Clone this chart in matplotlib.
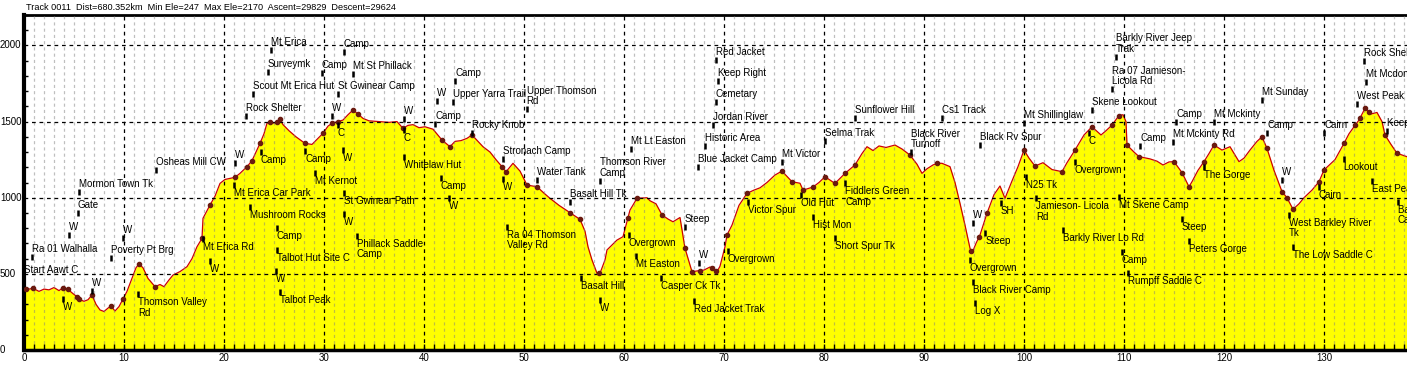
import matplotlib.pyplot as plt
import numpy as np
from matplotlib.ticker import MultipleLocator
from matplotlib.transforms import blended_transform_factory

plt.rcParams['font.family'] = ['Liberation Sans', 'DejaVu Sans']

title = "Track 0011  Dist=680.352km  Min Ele=247  Max Ele=2170  Ascent=29829  Descent=29624"

# elevation profile (km, m)
dist = [0.0, 0.5, 0.9, 1.5, 2.0, 2.5, 3.0, 3.5, 3.9, 4.4, 4.9, 5.3, 5.5, 6.0, 6.4, 6.8,
        7.2, 7.6, 8.0, 8.4, 8.7, 9.1, 9.5, 9.9, 10.3, 10.8, 11.2, 11.5, 11.9, 12.4, 13.1,
        13.6, 14.0, 14.5, 14.9, 15.6, 16.3, 16.8, 17.3, 17.8, 17.9, 18.6, 19.1, 19.6, 20.1,
        21.1, 21.6, 22.3, 22.8, 23.6, 24.0, 24.3, 24.6, 25.0, 25.3, 25.6, 25.9, 26.5, 27.2,
        28.1, 28.8, 29.4, 29.9, 30.4, 30.8, 31.4, 31.9, 32.4, 32.9, 33.4, 33.9, 34.5, 35.5,
        36.5, 37.3, 37.9, 38.4, 38.9, 39.5, 40.1, 40.9, 41.8, 42.6, 43.1, 43.7, 44.3, 44.8,
        45.9, 46.6, 47.2, 47.8, 48.2, 48.9, 49.6, 50.3, 51.3, 52.0, 52.6, 53.5, 54.6, 55.6,
        56.1, 56.4, 56.8, 57.3, 57.6, 58.1, 58.3, 59.3, 59.9, 60.6, 61.3, 62.3, 62.6, 63.2,
        63.8, 64.4, 64.9, 65.6, 66.1, 66.8, 67.4, 68.0, 68.6, 69.3, 69.6, 70.1, 70.3, 70.8,
        71.5, 72.3, 73.0, 73.6, 74.3, 75.1, 75.8, 76.3, 76.8, 77.6, 77.9, 78.9, 79.5, 80.1,
        81.1, 82.1, 83.1, 83.8, 84.3, 84.9, 85.5, 86.2, 87.1, 87.8, 88.6, 89.3, 89.8, 90.3,
        90.9, 91.3, 91.8, 92.6, 93.1, 93.6, 94.1, 94.6, 94.8, 95.2, 95.6, 96.3, 97.0, 97.6,
        98.1, 98.8, 99.4, 100.0, 100.5, 101.1, 101.9, 102.8, 103.8, 104.3, 105.1, 106.0,
        106.8, 107.7, 108.2, 108.8, 109.5, 109.9, 110.2, 110.3, 111.0, 111.5, 112.6, 113.3,
        113.9, 114.5, 115.0, 115.8, 116.5, 116.8, 117.4, 118.0, 118.5, 119.0, 119.8, 120.6,
        121.5, 122.0, 122.6, 123.3, 123.8, 124.3, 125.0, 125.8, 126.3, 126.9, 127.5, 128.0,
        128.8, 129.5, 130.0, 131.1, 132.0, 132.5, 133.0, 133.5, 134.1, 134.7, 135.3, 135.8,
        136.1, 136.7, 137.3, 138.3, 139.0]
elev = [405, 400, 405, 385, 400, 395, 410, 390, 409, 398, 370, 350, 333, 320, 330, 361,
        300, 263, 253, 275, 289, 256, 285, 335, 385, 470, 540, 565, 540, 470, 416,
        430, 416, 460, 492, 515, 547, 600, 678, 733, 865, 952, 1010, 1094, 1120,
        1134, 1160, 1204, 1243, 1357, 1420, 1489, 1499, 1490, 1500, 1515, 1480, 1440, 1400,
        1357, 1350, 1390, 1423, 1470, 1489, 1500, 1510, 1545, 1576, 1550, 1521, 1505, 1500,
        1495, 1500, 1456, 1475, 1480, 1460, 1466, 1450, 1379, 1335, 1370, 1375, 1390, 1412,
        1335, 1300, 1250, 1204, 1170, 1226, 1175, 1083, 1072, 1030, 996, 950, 902, 858,
        780, 678, 591, 504, 504, 591, 657, 722, 744, 919, 996, 1000, 980, 960,
        887, 860, 842, 870, 668, 514, 520, 525, 545, 514, 550, 678, 755, 820,
        950, 1029, 1050, 1065, 1100, 1149, 1175, 1140, 1105, 1095, 1050, 1070, 1100, 1138,
        1094, 1160, 1215, 1290, 1335, 1310, 1340, 1330, 1346, 1320, 1280, 1220, 1160, 1190,
        1215, 1226, 1226, 1204, 1100, 963, 820, 668, 635, 700, 755, 898, 1020, 1077,
        996, 1110, 1204, 1313, 1260, 1208, 1230, 1185, 1171, 1230, 1313, 1412,
        1466, 1412, 1440, 1477, 1540, 1545, 1500, 1346, 1300, 1270, 1255, 1240,
        1215, 1235, 1237, 1165, 1072, 1105, 1180, 1237, 1290, 1346, 1313, 1335,
        1237, 1260, 1313, 1370, 1400, 1324, 1180, 1040, 1000, 924, 960, 1000,
        1050, 1105, 1182, 1250, 1357, 1420, 1466, 1510, 1587, 1550, 1560, 1500,
        1412, 1350, 1292, 1270, 1250]

# waypoint dots on the profile (km)
dots = [0.2, 0.9, 3.9, 4.4, 5.3, 5.5, 6.8, 8.7, 9.9, 11.5, 13.1, 17.8, 18.6, 21.1, 22.3,
        22.8, 23.6, 24.6, 25.3, 25.6, 28.1, 29.9, 30.8, 31.4, 32.9, 33.4, 37.9, 41.8, 42.6,
        44.8, 47.8, 48.2, 50.3, 51.3, 54.6, 55.6, 57.5, 60.4, 61.3, 63.8, 66.1, 66.8, 67.6,
        68.8, 69.2, 70.3, 72.3, 75.8, 76.8, 77.9, 78.9, 80.1, 81.1, 82.1, 83.1, 88.6, 91.3,
        94.7, 95.5, 96.3, 100.0, 101.1, 103.8, 105.1, 106.8, 108.8, 109.5, 110.3, 111.5,
        115.0, 115.8, 116.5, 118.0, 119.0, 123.8, 124.3, 125.8, 126.3, 126.9, 129.5, 130.0,
        132.0, 133.1, 133.6, 134.1, 134.5, 136.1, 137.3]

# waypoint labels: text, km, elevation of the marker tick, text above (a) or below (b)
wp_names = ["Mt Erica", "Camp", "Surveymk", "Camp", "Mt St Phillack", "Scout Mt Erica Hut",
            "St Gwinear Camp", "Rock Shelter", "W", "W", "Camp", "W", "Upper Yarra Trail",
            "Camp", "C", "C", "W", "Whitelaw Hut", "Camp", "Camp", "Mt Kernot", "W",
            "Osheas Mill CW", "Mormon Town Tk", "Gate", "W", "W", "Mt Erica Car Park", "Camp",
            "St Gwinear Path", "W", "Mushroom Rocks", "W", "Camp", "Phillack Saddle\nCamp",
            "Mt Erica Rd", "Ra 01 Walhalla", "Poverty Pt Brg", "Start Aawt C", "W",
            "Talbot Hut Site C", "W", "Talbot Peak", "W", "W", "Thomson Valley\nRd",
            "Red Jacket", "Keep Right", "Cemetary", "Jordan River", "Upper Thomson\nRd",
            "Sunflower Hill", "Rocky Knob", "Stronach Camp", "W", "Water Tank",
            "Basalt Hill Tk", "Thomson River\nCamp", "Mt Lt Easton", "Historic Area",
            "Blue Jacket Camp", "Mt Victor", "Selma Trak", "Black River\nTurnoff",
            "Ra 04 Thomson\nValley Rd", "Overgrown", "Steep", "Victor Spur", "Old Hut",
            "Hist Mon", "Short Spur Tk", "Fiddlers Green\nCamp", "Overgrown", "W", "Mt Easton",
            "Basalt Hill", "W", "Casper Ck Tk", "Red Jacket Trak", "Barkly River Jeep\nTrak",
            "Ra 07 Jamieson-\nLicola Rd", "Skene Lookout", "Cs1 Track", "Mt Shillinglaw",
            "Camp", "Mt Mckinty", "Mt Sunday", "Rock Shelter", "Mt Mcdonald", "West Peak",
            "Keep Right", "Camp", "Cairn", "Black Rv Spur", "C", "Camp", "Mt Mckinty Rd",
            "N25 Tk", "Overgrown", "The Gorge", "W", "Lookout", "East Peak", "Bald Hill\nCamp",
            "SH", "W", "Steep", "Jamieson- Licola\nRd", "Mt Skene Camp", "Barkly River Lo Rd",
            "Steep", "Peters Gorge", "Cairn", "West Barkley River\nTk", "Overgrown",
            "Black River Camp", "Log X", "Camp", "Rumpff Saddle C", "The Low Saddle C"]
wp_km = [24.67, 32.0, 24.37, 29.77, 32.87, 22.87, 31.37, 22.2, 30.77, 38.0, 43.1, 41.27, 42.87,
         41.1, 31.37, 38.0, 31.93, 38.0, 23.67, 28.1, 29.1, 21.1, 13.2, 5.5, 5.37, 4.53, 9.93,
         21.0, 41.67, 32.0, 42.53, 22.6, 32.0, 25.27, 33.27, 17.87, 0.77, 8.7, 0.03, 18.6,
         25.27, 25.2, 25.6, 3.87, 6.77, 11.43, 69.2, 69.37, 69.2, 68.87, 50.27, 83.1, 44.77,
         47.93, 47.93, 51.27, 54.6, 57.6, 60.7, 68.1, 67.43, 75.83, 80.1, 88.67, 48.27, 60.47,
         66.1, 72.37, 77.7, 78.93, 81.1, 82.1, 70.37, 67.5, 61.17, 55.7, 57.6, 63.7, 67.0,
         109.2, 108.8, 106.8, 91.8, 100.03, 115.23, 119.03, 123.8, 134.03, 134.2, 133.3,
         136.27, 124.3, 130.03, 95.63, 106.47, 111.63, 114.9, 100.23, 105.07, 117.97, 125.8,
         131.97, 134.8, 137.4, 97.7, 94.9, 96.13, 101.2, 109.47, 103.9, 115.8, 116.47, 129.47,
         126.47, 94.57, 94.9, 95.07, 109.8, 110.37, 126.9]
wp_ele = [1970, 1955, 1827, 1821, 1812, 1679, 1679, 1538, 1536, 1515, 1768, 1637, 1630, 1484,
          1477, 1445, 1313, 1269, 1298, 1307, 1164, 1230, 1182, 1039, 901, 755, 737, 1083,
          1127, 1029, 996, 941, 891, 803, 749, 727, 613, 602, 471, 586, 657, 521, 383, 333,
          387, 366, 1904, 1766, 1630, 1477, 1582, 1521, 1423, 1252, 1121, 1116, 974, 1112,
          1320, 1339, 1204, 1236, 1374, 1298, 810, 755, 806, 974, 1018, 875, 733, 1095, 652,
          573, 617, 471, 328, 471, 324, 1926, 1714, 1576, 1521, 1488, 1499, 1499, 1642, 1900,
          1762, 1615, 1438, 1425, 1425, 1346, 1423, 1339, 1368, 1138, 1236, 1204, 1116, 1252,
          1112, 974, 963, 832, 766, 996, 1007, 788, 860, 718, 1072, 886, 591, 448, 307, 645,
          504, 678]
wp_side = ["a", "a", "a", "a", "a", "a", "a", "a", "a", "a", "a", "a", "a", "a",
           "b", "b", "b", "b", "b", "b", "b", "a", "a", "a", "a", "a", "a", "b",
           "b", "b", "b", "b", "b", "b", "b", "b", "a", "a", "a", "b", "b", "b", "b", "b",
           "a", "b", "a", "a", "a", "a", "a", "a", "a", "a", "b", "a", "a", "a",
           "a", "a", "a", "a", "a", "a", "b", "b", "a", "b", "b", "b", "b", "b", "b",
           "a", "b", "b", "b", "b", "b", "a", "a", "a", "a", "a", "a", "a", "a", "a",
           "a", "a", "a", "a", "a", "a", "b", "a", "a", "b", "b", "b", "a", "b",
           "b", "b", "b", "a", "b", "b", "b", "b", "b", "b", "b", "b", "b", "b", "b", "b",
           "b", "b"]

yticks = [0, 500, 1000, 1500, 2000]

W, H = 1407, 371
fig = plt.figure(figsize=(W / 100, H / 100), dpi=100)
ax = fig.add_axes([24 / W, 21 / H, (W - 24) / W, 335 / H])
ax.set_xlim(0, 138.3)
ax.set_ylim(0, 2200)

ax.fill_between(dist, elev, 0, color='#ffff00', lw=0, zorder=1)
ax.plot(dist, elev, color='#cc0000', lw=0.9, zorder=2)
ax.plot(dots, np.interp(dots, dist, elev), ls='none', marker='o', ms=3.0,
        color='#6a1a10', zorder=4)

# grid: dashed black every 10 km / 500 m, grey dashed every km
ax.set_axisbelow(False)
ax.xaxis.set_major_locator(MultipleLocator(10))
ax.xaxis.set_minor_locator(MultipleLocator(1))
ax.set_yticks(yticks)
ax.yaxis.set_minor_locator(MultipleLocator(100))
ax.grid(which='major', color='black', ls=(0, (3, 3)), lw=0.9)
ax.xaxis.grid(which='minor', color='#808080', alpha=0.5, ls=(0, (2.5, 2.5)), lw=0.9)
ax.tick_params(axis='x', which='both', direction='in', length=4, width=1,
               labelsize=7, pad=2, top=False)
ax.tick_params(axis='y', which='minor', direction='in', length=3, width=1)
ax.tick_params(axis='y', which='major', length=0, labelleft=False)

for s in ['top', 'bottom', 'left']:
    ax.spines[s].set_color('black')
ax.spines['left'].set_linewidth(3)
ax.spines['bottom'].set_linewidth(2.5)
ax.spines['top'].set_linewidth(2)
ax.spines['right'].set_visible(False)

# y labels sit flush with the left edge of the figure
ylab_tr = blended_transform_factory(fig.transFigure, ax.transData)
for v in yticks:
    ax.text(0, v, str(v), transform=ylab_tr, ha='left', va='center', fontsize=7)

# waypoint ticks and names
ax.plot(wp_km, wp_ele, ls='none', marker='|', ms=4, mew=1.8, color='black', zorder=5)
for name, k, e, side in zip(wp_names, wp_km, wp_ele, wp_side):
    if side == 'a':
        ax.annotate(name, (k, e), xytext=(0, 3), textcoords='offset pixels',
                    ha='left', va='bottom', fontsize=7, linespacing=1.05, zorder=6,
                    annotation_clip=False)
    else:
        ax.annotate(name, (k, e), xytext=(0, -3), textcoords='offset pixels',
                    ha='left', va='top', fontsize=7, linespacing=1.05, zorder=6,
                    annotation_clip=False)

fig.text(26 / W, 1 - 8 / H, title, ha='left', va='center', fontsize=6.6)

fig.savefig('out.png', dpi=100)
